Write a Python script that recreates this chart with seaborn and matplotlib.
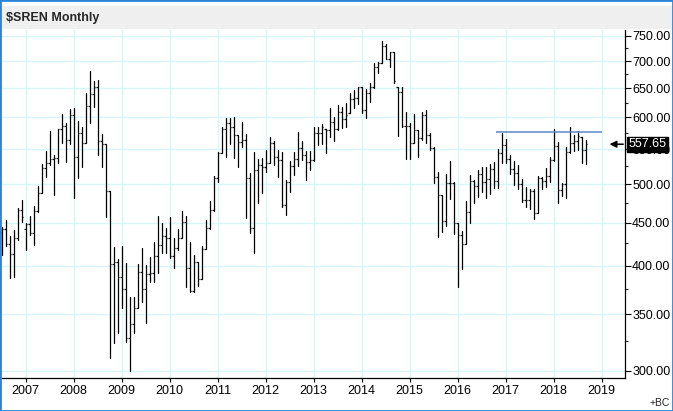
import numpy as np
import pandas as pd
import seaborn as sns
import matplotlib.pyplot as plt
from matplotlib.patches import Rectangle
from matplotlib.ticker import FixedLocator, FormatStrFormatter, NullFormatter
from matplotlib.transforms import blended_transform_factory

# Monthly OHLC bars, Jul 2006 .. Sep 2018
start_month = "2006-07"
opens = [438.0, 441.7, 424.0, 412.6, 431.0, 465.8, 442.0, 448.3, 436.9, 464.1,
         488.4, 522.0, 530.2, 536.1, 537.0, 580.8, 586.2, 564.2, 603.6, 538.5,
         574.6, 559.0, 618.7, 639.8, 652.9, 562.7, 558.0, 490.2, 401.4, 403.6,
         387.4, 375.2, 327.8, 340.6, 356.5, 392.7, 375.2, 390.9, 391.6, 410.7,
         423.2, 434.2, 431.0, 411.1, 419.4, 431.0, 450.3, 397.0, 373.5, 403.6,
         385.2, 419.0, 442.9, 465.4, 507.9, 544.9, 580.8, 590.5, 585.1, 571.9,
         561.1, 564.2, 507.9, 442.9, 519.7, 526.8, 524.4, 529.2, 559.0, 539.0,
         534.1, 472.2, 503.3, 525.8, 535.6, 552.5, 541.4, 530.7, 534.1, 574.6,
         574.6, 581.4, 579.8, 593.2, 580.8, 609.7, 597.0, 606.9, 630.6, 633.5,
         651.7, 612.5, 641.0, 651.7, 688.3, 696.0, 729.8, 703.9, 717.3, 652.9,
         642.7, 586.2, 586.7, 559.0, 579.8, 566.7, 604.1, 571.9, 551.4, 509.4,
         485.3, 452.4, 501.9, 501.0, 449.1, 434.9, 424.0, 463.6, 504.7, 497.4,
         513.5, 502.4, 506.6, 520.6, 504.7, 544.9, 556.5, 535.1, 520.6, 514.9,
         499.6, 478.7, 478.7, 490.6, 462.3, 508.9, 504.2, 511.2, 534.1, 555.0,
         491.5, 499.6, 545.4, 559.0, 562.7, 569.3, 548.9]
highs = [445.0, 452.6, 433.8, 440.9, 467.9, 478.7, 449.9, 458.1, 470.9, 497.4,
         528.2, 547.4, 578.2, 541.4, 581.9, 605.2, 590.5, 614.2, 615.8, 594.3,
         584.0, 641.0, 681.4, 663.7, 664.9, 573.0, 558.0, 490.2, 420.5, 406.9,
         422.0, 402.5, 367.4, 366.7, 401.8, 419.4, 400.6, 409.1, 426.3, 458.1,
         449.9, 442.9, 456.5, 431.0, 441.7, 464.9, 458.1, 426.3, 411.8, 404.4,
         422.0, 452.6, 477.4, 511.7, 546.4, 585.1, 598.6, 599.7, 600.3, 571.9,
         592.6, 573.5, 515.9, 545.4, 535.1, 536.6, 548.9, 568.3, 562.7, 548.9,
         545.9, 505.6, 532.6, 546.4, 577.2, 563.2, 547.9, 547.9, 585.1, 585.1,
         588.9, 581.4, 615.3, 600.3, 620.9, 617.0, 624.8, 641.0, 646.9, 652.9,
         652.9, 648.1, 660.0, 696.0, 698.6, 739.8, 733.1, 718.6, 717.3, 652.9,
         651.7, 609.7, 591.6, 605.8, 579.8, 609.7, 612.5, 574.6, 553.0, 517.3,
         485.3, 514.0, 532.6, 503.3, 449.9, 440.1, 477.4, 512.6, 505.6, 519.7,
         524.4, 524.4, 527.7, 530.7, 550.4, 575.6, 565.7, 541.4, 532.6, 526.8,
         506.6, 495.6, 492.9, 492.9, 511.2, 510.3, 522.0, 539.0, 580.8, 561.6,
         501.0, 554.0, 585.1, 571.9, 578.2, 569.3, 564.2]
lows = [411.5, 422.0, 386.3, 388.1, 429.0, 451.1, 417.5, 434.9, 423.2, 463.6,
        488.4, 510.3, 526.8, 485.7, 530.2, 560.0, 531.6, 558.0, 481.8, 508.9,
        524.4, 559.0, 591.6, 618.1, 541.4, 524.4, 457.3, 310.3, 323.9, 332.9,
        355.8, 324.8, 299.6, 332.9, 355.8, 362.4, 342.1, 382.8, 382.8, 391.6,
        414.5, 414.5, 408.0, 397.7, 417.5, 431.0, 377.6, 372.5, 372.5, 378.3,
        385.2, 418.6, 442.1, 464.6, 503.3, 543.9, 539.0, 558.0, 537.5, 524.4,
        554.0, 455.2, 436.9, 413.7, 475.2, 488.4, 517.3, 529.2, 526.8, 510.3,
        470.0, 459.4, 489.7, 512.6, 525.3, 534.1, 505.6, 519.7, 533.1, 556.5,
        557.5, 544.9, 569.3, 563.2, 579.8, 582.4, 585.1, 606.9, 615.3, 622.6,
        606.9, 598.6, 626.5, 649.9, 677.1, 696.0, 703.9, 689.6, 658.8, 570.4,
        585.1, 535.1, 535.1, 559.0, 539.0, 564.2, 559.0, 548.9, 501.9, 433.0,
        438.1, 446.2, 479.6, 435.7, 376.9, 395.9, 424.0, 449.1, 475.2, 482.2,
        489.7, 481.8, 486.6, 495.2, 495.2, 530.2, 530.2, 513.5, 498.7, 493.3,
        476.5, 469.1, 466.6, 454.0, 462.3, 492.9, 496.5, 503.3, 533.1, 475.2,
        484.0, 480.9, 544.9, 547.9, 548.9, 529.2, 527.7]
closes = [441.7, 424.0, 412.6, 431.0, 465.8, 456.5, 448.3, 436.9, 464.1, 488.4,
          522.0, 530.2, 536.1, 537.0, 580.8, 586.2, 564.2, 603.6, 538.5, 574.6,
          559.0, 618.7, 639.8, 652.9, 562.7, 558.0, 490.2, 401.4, 403.6, 387.4,
          375.2, 327.8, 340.6, 356.5, 392.7, 375.2, 390.9, 391.6, 410.7, 423.2,
          434.2, 431.0, 411.1, 419.4, 431.0, 450.3, 397.0, 373.5, 403.6, 385.2,
          419.0, 442.9, 465.4, 507.9, 544.9, 580.8, 590.5, 585.1, 571.9, 561.1,
          564.2, 507.9, 442.9, 519.7, 526.8, 524.4, 529.2, 559.0, 539.0, 534.1,
          472.2, 503.3, 525.8, 535.6, 552.5, 541.4, 530.7, 534.1, 574.6, 574.6,
          585.1, 579.8, 593.2, 580.8, 609.7, 597.0, 604.1, 630.6, 633.5, 651.7,
          612.5, 641.0, 651.7, 688.3, 696.0, 729.8, 703.9, 717.3, 663.1, 642.7,
          586.2, 586.7, 559.0, 579.8, 566.7, 604.1, 571.9, 551.4, 509.4, 485.3,
          452.4, 501.9, 501.0, 449.1, 434.9, 424.0, 463.6, 504.7, 497.4, 513.5,
          502.4, 506.6, 520.6, 504.7, 544.9, 556.5, 535.1, 520.6, 514.9, 499.6,
          478.7, 478.7, 490.6, 462.3, 508.9, 504.2, 511.2, 534.1, 555.0, 491.5,
          499.6, 545.4, 559.0, 562.7, 570.4, 548.9, 557.65]

last_price = 557.65
resistance = 576.0
resistance_from = "2016-11"
resistance_to = "2019-01"
year_labels = list(range(2007, 2020))
price_ticks = [300, 350, 400, 450, 500, 550, 600, 650, 700, 750]
price_minor = [325, 375, 425, 475, 525, 575, 625, 675, 725]

months = pd.period_range(start_month, periods=len(closes), freq="M")
df = pd.DataFrame({"month": months, "open": opens, "high": highs,
                   "low": lows, "close": closes})
df["n"] = np.arange(len(df))

# month index of any period on the same uniform scale
def month_pos(p):
    return (pd.Period(p, freq="M") - pd.Period(start_month, freq="M")).n

# long table for the high-low ranges, one unit per bar
rng = pd.concat([df[["n", "low"]].rename(columns={"low": "price"}),
                 df[["n", "high"]].rename(columns={"high": "price"})])

sns.set_style("white")
plt.rcParams["font.family"] = ["Liberation Sans", "DejaVu Sans"]

W, H = 673, 411
fig = plt.figure(figsize=(W / 100, H / 100), dpi=100)
ax = fig.add_axes([1 / W, 33 / H, 623.5 / W, 348 / H])
ax.set_yscale("log")

sns.lineplot(data=rng, x="n", y="price", units="n", estimator=None,
             color="black", lw=0.9, legend=False, ax=ax)
ax.hlines(df["open"], df["n"] - 0.4, df["n"], color="black", lw=0.9)
ax.hlines(df["close"], df["n"], df["n"] + 0.4, color="black", lw=0.9)

ax.hlines(resistance, month_pos(resistance_from) - 0.35, month_pos(resistance_to),
          color="#5b86c8", lw=1.1, zorder=3)

ax.set_xlim(-0.125, 155.75)
ax.set_ylim(294.0, 762.4)

ax.yaxis.set_major_locator(FixedLocator(price_ticks))
ax.yaxis.set_major_formatter(FormatStrFormatter("%.2f"))
ax.yaxis.set_minor_locator(FixedLocator(price_minor))
ax.yaxis.set_minor_formatter(NullFormatter())
ax.yaxis.tick_right()
ax.set_xticks([month_pos(f"{y}-01") for y in year_labels])
ax.set_xticklabels([str(y) for y in year_labels])
ax.set_xlabel("")
ax.set_ylabel("")

ax.tick_params(axis="y", which="major", direction="out", length=4, width=0.8,
               pad=1.5, labelsize=9, colors="black", right=True, left=False)
ax.tick_params(axis="y", which="minor", direction="out", length=2.5, width=0.8,
               right=True, left=False)
ax.tick_params(axis="x", direction="out", length=3, width=0.8, pad=2,
               labelsize=9, colors="black", bottom=True)

ax.grid(True, which="major", color="#d6f6f8", lw=1)
ax.set_axisbelow(True)
for side in ["left", "top"]:
    ax.spines[side].set_visible(False)
for side in ["right", "bottom"]:
    ax.spines[side].set_color("black")
    ax.spines[side].set_linewidth(0.9)

# last price marker on the right axis
blend = blended_transform_factory(ax.transAxes, ax.transData)
ax.text(1.0058, last_price, f"{last_price:.2f}", transform=blend, color="white",
        fontsize=9, ha="left", va="center", clip_on=False, zorder=10,
        bbox=dict(boxstyle="square,pad=0.12", fc="black", ec="black"))
ax.annotate("", xy=(0.976, last_price), xytext=(0.998, last_price),
            xycoords=blend, textcoords=blend,
            arrowprops=dict(arrowstyle="-|>", color="black", lw=1.1,
                            mutation_scale=10, shrinkA=0, shrinkB=0))

# header band, title and frame
fig.patches.append(Rectangle((1 / W, (H - 29) / H), 671 / W, 23 / H,
                             transform=fig.transFigure, fc="#efefef", ec="none"))
fig.text(6 / W, (H - 17.5) / H, r"\$SREN Monthly", fontsize=9,
         fontweight="bold", ha="left", va="center")
fig.text(670 / W, (H - 403) / H, "+BC", fontsize=7.5, ha="right", va="center")
fig.patches.append(Rectangle((0, 0), 1, 1, transform=fig.transFigure,
                             fill=False, ec="#2a84d8", lw=2))

fig.savefig("out.png", dpi=100)
